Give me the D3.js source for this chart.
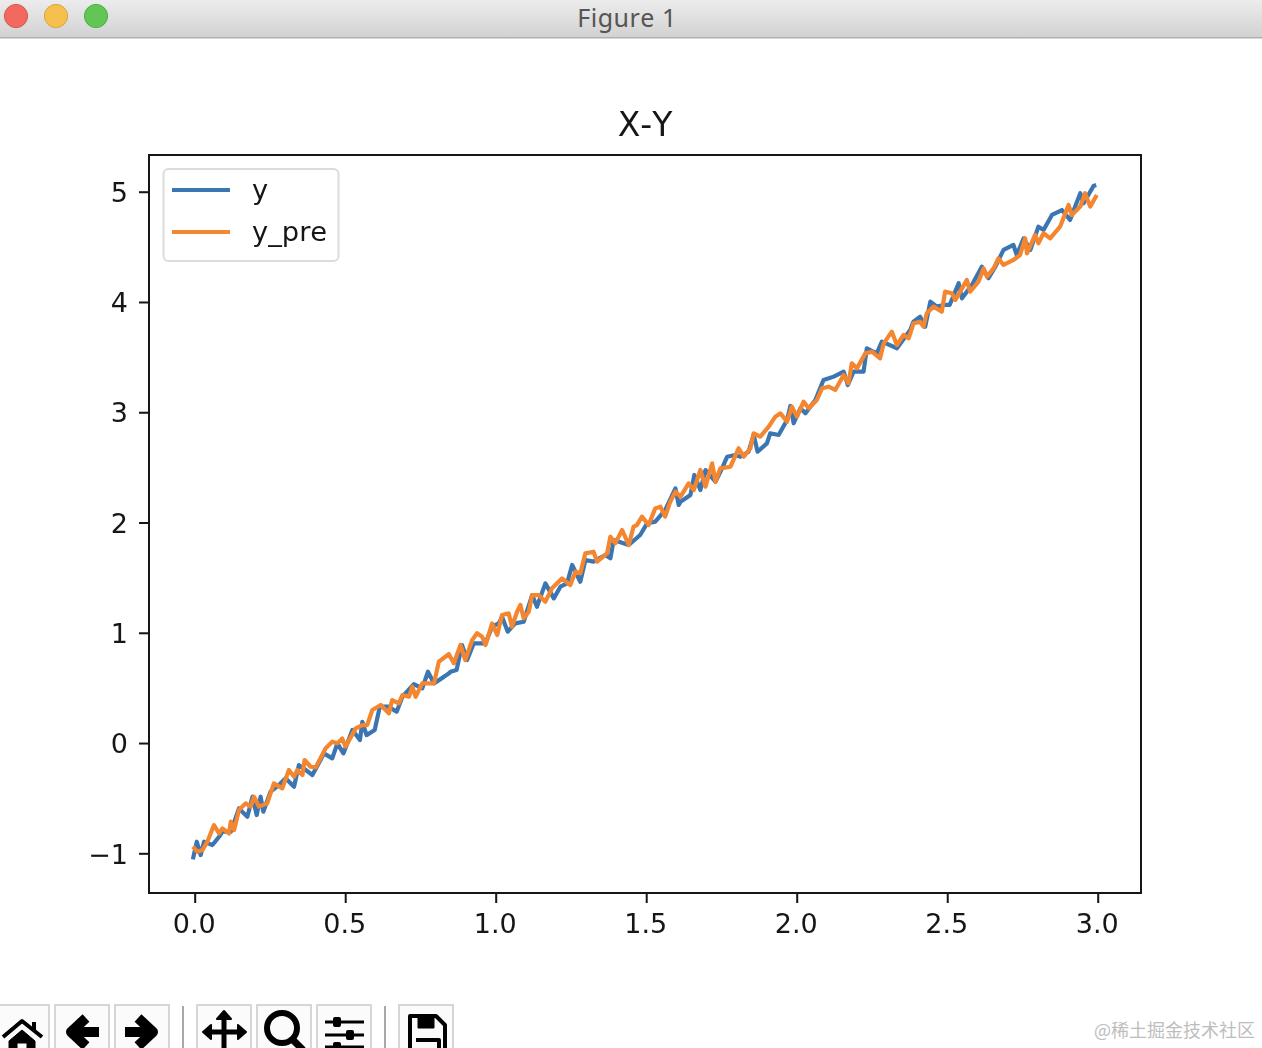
<!DOCTYPE html>
<html>
<head>
<meta charset="utf-8">
<script src="https://cdn.jsdelivr.net/npm/d3@7"></script>
<style>
html,body{margin:0;padding:0;background:#fff;overflow:hidden}
svg{display:block}
text{font-kerning:none}
</style>
</head>
<body>
<svg id="c" width="1262" height="1048"></svg>
<script>
const chartTitle = "X-Y";
const windowTitle = "Figure 1";
const watermark = "@稀土掘金技术社区";
const seriesNames = ["y", "y_pre"];
const xTicks = [0, 0.5, 1, 1.5, 2, 2.5, 3];
const xTickLabels = ["0.0", "0.5", "1.0", "1.5", "2.0", "2.5", "3.0"];
const yTicks = [-1, 0, 1, 2, 3, 4, 5];
const yTickLabels = ["\u22121", "0", "1", "2", "3", "4", "5"];

const yX = [-0.006,0.007,0.02,0.031,0.044,0.059,0.081,0.092,0.12,0.147,0.175,0.192,0.206,0.219,0.228,0.252,0.28,0.302,0.33,0.346,0.369,0.391,0.418,0.429,0.457,0.474,0.494,0.524,0.549,0.557,0.571,0.598,0.615,0.645,0.671,0.69,0.728,0.756,0.775,0.795,0.845,
0.85,0.87,0.888,0.905,0.927,0.966,0.988,1.01,1.021,1.04,1.065,1.093,1.121,1.137,1.165,1.193,1.215,1.237,1.254,1.281,1.298,1.325,1.364,1.381,1.392,1.442,1.48,1.503,1.53,1.563,1.597,1.608,
1.614,1.647,1.66,1.68,1.697,1.73,1.752,1.769,1.796,1.813,1.84,1.857,1.87,1.901,1.912,1.94,1.968,1.979,1.99,2.012,2.029,2.062,2.089,2.123,2.156,2.17,2.189,2.222,2.233,2.266,2.283,2.333,2.377,2.388,
2.41,2.427,2.444,2.466,2.488,2.508,2.538,2.549,2.582,2.615,2.637,2.66,2.687,2.72,2.731,2.754,2.776,2.803,2.82,2.848,2.881,2.908,2.942,2.953,2.986,2.995];
const yValues = [-1.055,-0.895,-1.016,-0.895,-0.91,-0.925,-0.85,-0.804,-0.804,-0.593,-0.668,-0.487,-0.653,-0.487,-0.623,-0.441,-0.381,-0.32,-0.396,-0.2,-0.245,-0.29,-0.154,-0.094,-0.139,-0.003,-0.094,0.118,0.027,0.193,0.072,0.118,0.33,0.33,0.284,0.42,0.535,0.496,0.647,0.541,0.632,
0.647,0.662,0.889,0.753,0.904,0.904,1.055,1.085,1.146,1.01,1.085,1.1,1.342,1.236,1.448,1.312,1.418,1.448,1.615,1.463,1.66,1.645,1.705,1.675,1.841,1.796,1.887,1.992,2.008,2.113,2.31,2.159,
2.189,2.25,2.431,2.295,2.476,2.37,2.491,2.597,2.612,2.597,2.642,2.794,2.642,2.718,2.809,2.794,2.93,3.057,2.9,3.036,2.99,3.111,3.292,3.323,3.368,3.247,3.368,3.368,3.58,3.534,3.64,3.58,3.746,3.822,
3.867,3.776,4.003,3.958,3.973,3.973,4.17,4.033,4.154,4.32,4.215,4.32,4.472,4.517,4.426,4.577,4.472,4.683,4.653,4.789,4.834,4.744,4.986,4.895,5.052,5.06];

const preX = [-0.006,0.009,0.026,0.042,0.064,0.081,0.092,0.114,0.12,0.131,0.147,0.169,0.186,0.197,0.214,0.241,0.263,0.291,0.313,0.33,0.341,0.358,0.365,0.385,0.402,0.435,0.457,0.474,0.49,0.501,0.535,0.557,0.573,0.59,0.618,0.645,0.656,0.678,0.69,0.712,0.723,0.734,0.756,0.795,
0.811,0.844,0.861,0.883,0.899,0.922,0.938,0.955,0.966,0.988,1.005,1.021,1.043,1.054,1.071,1.082,1.093,1.11,1.121,1.143,1.165,1.187,1.22,1.248,1.265,1.281,1.298,1.325,1.337,1.37,1.381,1.397,1.42,1.442,1.458,1.469,1.486,1.508,1.53,1.547,1.563,1.58,1.597,
1.614,1.641,1.658,1.68,1.697,1.719,1.73,1.746,1.78,1.807,1.824,1.846,1.857,1.879,1.907,1.929,1.946,1.968,1.984,2.001,2.023,2.04,2.067,2.084,2.106,2.128,2.156,2.172,2.183,2.2,2.228,2.25,2.277,2.289,2.316,2.333,2.355,2.372,2.388,2.41,
2.421,2.432,2.455,2.482,2.493,2.515,2.527,2.543,2.565,2.576,2.604,2.621,2.632,2.654,2.67,2.687,2.72,2.742,2.759,2.765,2.792,2.803,2.82,2.842,2.875,2.903,2.914,2.942,2.958,2.975,2.997];
const preValues = [-0.94,-0.986,-0.97,-0.895,-0.744,-0.82,-0.774,-0.82,-0.713,-0.789,-0.608,-0.547,-0.577,-0.487,-0.577,-0.547,-0.366,-0.411,-0.245,-0.305,-0.245,-0.29,-0.154,-0.215,-0.221,-0.048,0.012,-0.003,0.042,-0.033,0.133,0.163,0.163,0.3,0.345,0.269,0.39,0.36,0.435,0.42,0.511,0.42,0.541,0.541,
0.737,0.807,0.723,0.889,0.753,0.934,0.995,0.964,0.889,1.085,0.98,1.161,1.176,1.055,1.191,1.252,1.131,1.191,1.342,1.342,1.282,1.403,1.493,1.433,1.554,1.539,1.72,1.735,1.645,1.72,1.871,1.811,1.932,1.796,1.962,1.977,2.053,1.977,2.128,2.144,2.053,2.189,2.28,
2.234,2.355,2.295,2.476,2.325,2.537,2.37,2.491,2.506,2.673,2.597,2.673,2.809,2.779,2.869,2.96,2.99,2.914,3.051,2.96,3.096,3.036,3.111,3.217,3.232,3.202,3.338,3.262,3.444,3.398,3.534,3.549,3.489,3.625,3.731,3.61,3.701,3.67,3.807,3.82,
3.776,3.897,3.958,3.912,4.094,4.079,4.018,4.094,4.2,4.094,4.184,4.305,4.23,4.305,4.396,4.336,4.381,4.426,4.578,4.441,4.608,4.532,4.623,4.577,4.683,4.88,4.789,4.865,4.986,4.865,4.97];

const FONT = '"DejaVu Sans", sans-serif';
const BLUE = "#3a76b2", ORANGE = "#f3862f", INK = "#151515";
const plot = {left:149, right:1141, top:155, bottom:893};

const svg = d3.select("#c");
const defs = svg.append("defs");
const bar = defs.append("linearGradient").attr("id","bar").attr("x1",0).attr("x2",0).attr("y1",0).attr("y2",1);
bar.append("stop").attr("offset",0).attr("stop-color","#ececec");
bar.append("stop").attr("offset",1).attr("stop-color","#d2d2d2");
defs.append("filter").attr("id","soft").attr("x","-5%").attr("y","-5%").attr("width","110%").attr("height","110%")
  .append("feGaussianBlur").attr("stdDeviation",0.6);

// window chrome
const chrome = svg.append("g");
chrome.append("rect").attr("width",1262).attr("height",37).attr("fill","url(#bar)");
chrome.append("rect").attr("y",37).attr("width",1262).attr("height",1.5).attr("fill","#b0b0b0");
[[16,"#f2695f","#d9544b"],[56,"#f6c04f","#dca23a"],[96,"#62c655","#4fa944"]].forEach(([cx,f,s])=>{
  chrome.append("circle").attr("cx",cx).attr("cy",16).attr("r",11.6).attr("fill",f).attr("stroke",s).attr("stroke-width",1);
});
chrome.append("text").attr("x",627).attr("y",27).attr("text-anchor","middle")
  .attr("font-family",'"Noto Sans", sans-serif').attr("font-size",25).attr("letter-spacing",0.5)
  .attr("fill","#555").text(windowTitle);

const fig = svg.append("g").attr("filter","url(#soft)");

const x = d3.scaleLinear().domain([-0.1518, 3.1438]).range([plot.left, plot.right]);
const y = d3.scaleLinear().domain([-1.36, 5.333]).range([plot.bottom, plot.top]);

const line = d3.line().x(d=>x(d[0])).y(d=>y(d[1])).curve(d3.curveLinear);
fig.append("path").datum(d3.zip(yX,yValues)).attr("d",line).attr("fill","none")
  .attr("stroke",BLUE).attr("stroke-width",4.2).attr("stroke-linejoin","round");
fig.append("path").datum(d3.zip(preX,preValues)).attr("d",line).attr("fill","none")
  .attr("stroke",ORANGE).attr("stroke-width",4.2).attr("stroke-linejoin","round");

// axes
const xAxis = d3.axisBottom(x).tickValues(xTicks).tickFormat((d,i)=>xTickLabels[i]).tickSize(10).tickPadding(11);
const yAxis = d3.axisLeft(y).tickValues(yTicks).tickFormat((d,i)=>yTickLabels[i]).tickSize(10).tickPadding(11);
const gx = fig.append("g").attr("transform",`translate(0,${plot.bottom})`).call(xAxis);
const gy = fig.append("g").attr("transform",`translate(${plot.left},0)`).call(yAxis);
[gx,gy].forEach(g=>{
  g.select(".domain").remove();
  g.selectAll("line").attr("stroke",INK).attr("stroke-width",2);
  g.selectAll("text").attr("font-family",FONT).attr("font-size",27).attr("fill",INK);
});
gx.selectAll("text").attr("dx",-1);
gy.selectAll("text").attr("dy","0.36em");
fig.append("rect").attr("x",plot.left).attr("y",plot.top)
  .attr("width",plot.right-plot.left).attr("height",plot.bottom-plot.top)
  .attr("fill","none").attr("stroke",INK).attr("stroke-width",2);

fig.append("text").attr("x",645).attr("y",136).attr("text-anchor","middle")
  .attr("font-family",FONT).attr("font-size",33).attr("fill",INK).text(chartTitle);

// legend
const lg = fig.append("g");
lg.append("rect").attr("x",163.5).attr("y",169).attr("width",175).attr("height",92).attr("rx",5)
  .attr("fill","#fff").attr("stroke","#dcdcdc").attr("stroke-width",2);
seriesNames.forEach((name,i)=>{
  const cy = 190 + i*42;
  lg.append("line").attr("x1",172).attr("x2",230).attr("y1",cy).attr("y2",cy)
    .attr("stroke",i?ORANGE:BLUE).attr("stroke-width",4);
  lg.append("text").attr("x",252).attr("y",cy+9).attr("font-family",FONT).attr("font-size",27.3)
    .attr("fill",INK).text(name);
});

// toolbar
const tb = svg.append("g").attr("filter","url(#soft)");
[[-6,49],[55,109],[115,169],[197,251],[257,311],[317,371],[399,453]].forEach(([a,b])=>{
  tb.append("rect").attr("x",a).attr("y",1005).attr("width",b-a).attr("height",60)
    .attr("fill","#fbfbfb").attr("stroke","#d6d6d6").attr("stroke-width",2);
});
[183,385].forEach(px=>tb.append("rect").attr("x",px-1).attr("y",1006).attr("width",2).attr("height",42).attr("fill","#a8a8a8"));
const icon = (d,sw,fill)=>tb.append("path").attr("d",d).attr("fill",fill||"none").attr("stroke","#000").attr("stroke-width",sw).attr("stroke-linejoin","round");
icon("M3 1037L22 1021L42 1037",4);
icon("M34 1022V1030",4);
icon("M9 1041L22 1030L35 1041V1050H27V1043H17V1050H9Z",1,"#000");
icon("M99 1032H72M86 1018L71 1032L86 1046",10);
icon("M125 1032H152M138 1018L153 1032L138 1046",10);
icon("M224 1014V1050M206 1032H243",5);
icon("M224 1011L217 1019H231ZM203 1032L211 1025V1039ZM246 1032L238 1025V1039Z",2,"#000");
tb.append("circle").attr("cx",282).attr("cy",1028).attr("r",15).attr("fill","none").attr("stroke","#000").attr("stroke-width",6);
icon("M293 1040L303 1050",7);
icon("M325 1022H364M325 1035H364M325 1047H364",3);
[[337,1022],[350,1035],[337,1047]].forEach(([cx,cy])=>tb.append("rect").attr("x",cx-4).attr("y",cy-5).attr("width",8).attr("height",10).attr("rx",2).attr("fill","#000"));
icon("M410 1016H436L445 1025V1052H410Z",4);
icon("M418 1016H434V1028H418Z",1,"#000");
icon("M416 1040H439V1052",4);

svg.append("text").attr("x",1255).attr("y",1037).attr("text-anchor","end")
  .attr("font-family",'"Noto Sans CJK SC", sans-serif').attr("font-size",18).attr("fill","#bdbdbd").text(watermark);
</script>
</body>
</html>
